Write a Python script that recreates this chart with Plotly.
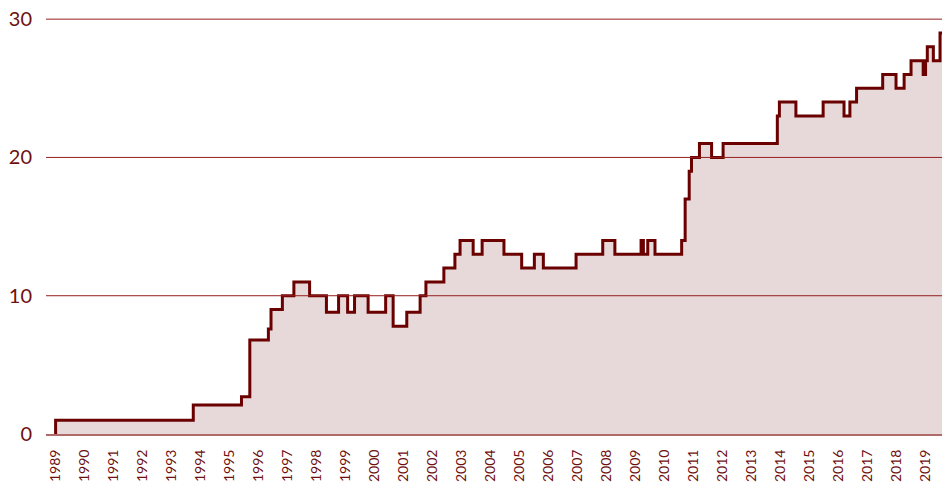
import plotly.graph_objects as go

# Step change dates and the value that holds from each date onward
change_dates = [
    "1989-01-08", "1989-01-08", "1993-10-08", "1995-06-07", "1995-09-20",
    "1996-05-11", "1996-06-13", "1996-11-03", "1997-03-28", "1997-10-12",
    "1998-05-12", "1998-10-12", "1999-02-03", "1999-05-01", "1999-10-19",
    "2000-05-27", "2000-08-29", "2001-02-17", "2001-08-04", "2001-10-16",
    "2002-05-30", "2002-10-16", "2002-12-20", "2003-06-03", "2003-09-24",
    "2004-06-25", "2005-02-03", "2005-07-13", "2005-11-03", "2006-12-20",
    "2007-11-21", "2008-04-22", "2009-03-18", "2009-04-16", "2009-06-10",
    "2009-09-09", "2010-08-11", "2010-09-24", "2010-11-14", "2010-12-13",
    "2011-03-23", "2011-08-23", "2012-01-15", "2013-11-28", "2013-12-24",
    "2014-07-20", "2015-06-28", "2016-03-17", "2016-05-30", "2016-08-22",
    "2017-07-17", "2018-01-01", "2018-04-13", "2018-07-09", "2018-12-09",
    "2019-01-08", "2019-01-30", "2019-04-16", "2019-07-09", "2019-08-08",
]
values = [
    0, 1, 2.1, 2.7, 6.8,
    7.6, 9, 10, 11, 10,
    8.8, 10, 8.8, 10, 8.8,
    10, 7.8, 8.8, 10, 11,
    12, 13, 14, 13, 14,
    13, 12, 13, 12, 13,
    14, 13, 14, 13, 14,
    13, 14, 17, 19, 20,
    21, 20, 21, 23, 24,
    23, 24, 23, 24, 25,
    26, 25, 26, 27, 26,
    27, 28, 27, 29, 29,
]

y_ticks = [0, 10, 20, 30]
x_range = ["1988-09-09", "2019-08-03"]

LINE = "#6b0000"
FILL = "#e7d9d9"
TEXT = "#6e1010"
GRID = "#961e1e"

fig = go.Figure()
fig.add_trace(go.Scatter(
    x=change_dates, y=values, mode="lines",
    line=dict(color=LINE, width=3, shape="hv"),
    fill="tozeroy", fillcolor=FILL,
    hoverinfo="skip", showlegend=False,
))

# gridlines drawn above the filled area, as in the reference
for v in y_ticks[1:]:
    fig.add_shape(type="line", xref="paper", yref="y", x0=0, x1=1, y0=v, y1=v,
                  line=dict(color=GRID, width=1), layer="above")

fig.update_layout(
    width=942, height=483,
    margin=dict(l=46, r=0, t=15, b=49),
    paper_bgcolor="white", plot_bgcolor="white",
    font=dict(family="Lato", color=TEXT),
    showlegend=False,
)
fig.update_xaxes(
    type="date", range=x_range, automargin=False,
    dtick="M12", tick0="1989-01-01", tickformat="%Y",
    tickangle=-90, tickfont=dict(size=14, color=TEXT, family="Lato"),
    ticks="outside", ticklen=8, tickcolor="rgba(0,0,0,0)",
    showgrid=False, zeroline=False,
    showline=True, linecolor="#b06a6a", linewidth=2,
)
fig.update_yaxes(
    range=[0, 30.3], tickvals=y_ticks, automargin=False,
    tickfont=dict(size=20, color=TEXT, family="Lato"),
    ticks="outside", ticklen=9, tickcolor="rgba(0,0,0,0)",
    showgrid=False, zeroline=False, showline=False,
)

fig.write_html(
    "out.html",
    config={"displayModeBar": False},
    post_script="document.body.style.margin='0';document.body.style.overflow='hidden';",
)
